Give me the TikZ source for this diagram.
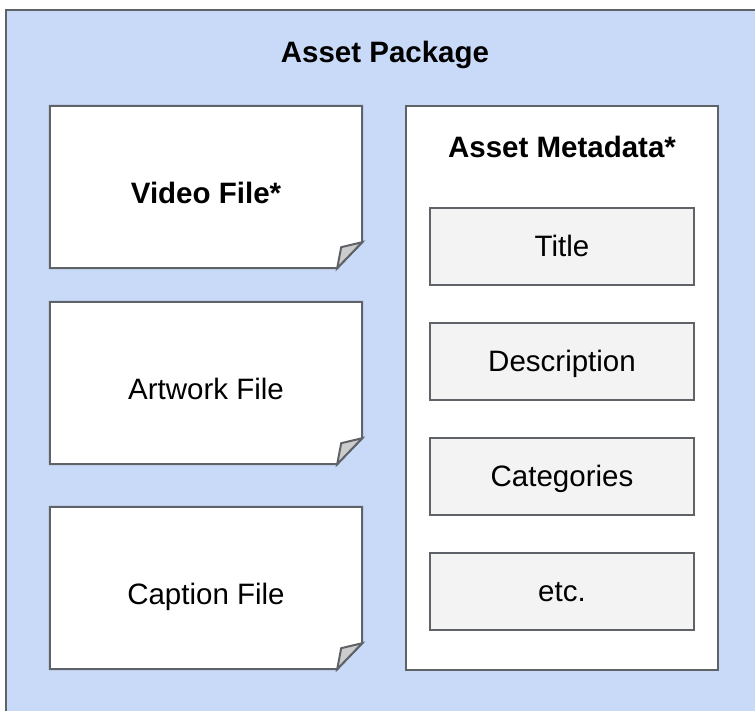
\documentclass[tikz,border=0pt]{standalone}
\usepackage{fontspec}
\setmainfont{Liberation Sans}
\usetikzlibrary{positioning,backgrounds}

\definecolor{pkgblue}{HTML}{C9DAF8}
\definecolor{edgegray}{HTML}{5F6368}
\definecolor{boxgray}{HTML}{F3F3F3}
\definecolor{foldgray}{HTML}{CCCCCC}

\tikzset{
  bodytext/.style={font=\fontsize{29.5}{35}\selectfont},
  headtext/.style={font=\fontsize{29.5}{35}\selectfont\bfseries},
  pkgbox/.style={draw=edgegray, line width=2pt, fill=pkgblue},
  docedge/.style={draw=edgegray, line width=2pt},
  docfile/.style={minimum width=312pt, minimum height=162pt, inner sep=0pt,
    text height=33pt, text depth=0pt},
  metabox/.style={draw=edgegray, line width=2pt, fill=white,
    minimum width=312pt, minimum height=564pt, inner sep=0pt},
  fieldbox/.style={bodytext, draw=edgegray, line width=2pt, fill=boxgray,
    minimum width=264pt, minimum height=77pt, inner sep=0pt,
    text height=21pt, text depth=0pt},
}

\begin{document}
\begin{tikzpicture}[x=1pt, y=1pt]
  \useasboundingbox (0,0) rectangle (755,711);

  % Heading
  \node[headtext, anchor=base] (pkgname) at (385,648) {Asset Package};

  % Files
  \node[docfile, headtext] (video) at (206,524) {Video File*};
  \node[docfile, bodytext] (artwork) at (206,328) {Artwork File};
  \node[docfile, bodytext] (caption) at (206,123) {Caption File};

  % Metadata
  \node[metabox] (meta) at (562,323) {};
  \node[headtext, anchor=base] (metaname) at (562,553) {Asset Metadata*};
  \node[fieldbox] (title) at (562,464.5) {Title};
  \node[fieldbox, below=36pt of title] (desc) {Description};
  \node[fieldbox, below=36pt of desc] (cats) {Categories};
  \node[fieldbox, below=36pt of cats] (etc) {etc.};

  % Package and file sheets behind the text
  \begin{pgfonlayer}{background}
    \draw[pkgbox] (6,701) rectangle (765,-10);
    \foreach \doc in {video,artwork,caption} {
      \draw[docedge, fill=white] (\doc.north west) -- (\doc.north east)
        -- ([yshift=26pt]\doc.south east) -- ([xshift=-25pt]\doc.south east)
        -- (\doc.south west) -- cycle;
      \draw[docedge, fill=foldgray] ([yshift=26pt]\doc.south east)
        -- ([xshift=-21pt, yshift=21pt]\doc.south east)
        -- ([xshift=-25pt]\doc.south east) -- cycle;
    }
  \end{pgfonlayer}
\end{tikzpicture}
\end{document}
